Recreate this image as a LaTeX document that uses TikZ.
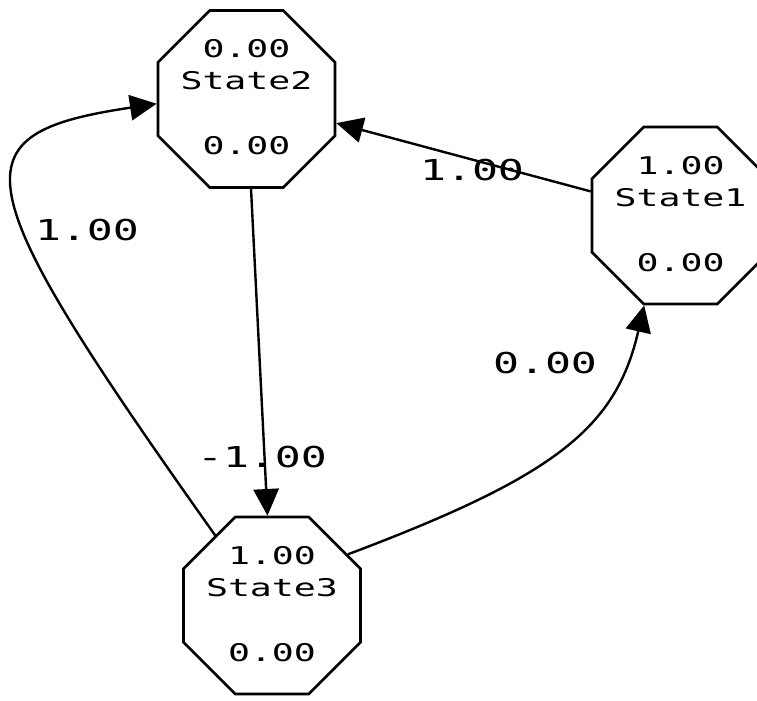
\documentclass[tikz,border=0pt]{standalone}
\usepackage{fontspec}
\usepackage{graphicx}
\newfontfamily\statefont[FakeStretch=1.5,Scale=1.75]{DejaVu Sans Mono}
\newfontfamily\labelfont[FakeStretch=1.5,Scale=2.25]{DejaVu Sans Mono}
\newlength\stw
\newlength\lbw
\newcommand\stxt[1]{\scalebox{\stsc}{\statefont #1}}
\newcommand\ltxt[1]{\scalebox{\lbsc}{\labelfont #1}}
\usetikzlibrary{shapes.geometric,arrows.meta}
\begin{document}
\settowidth{\stw}{\statefont 0}%
\settowidth{\lbw}{\labelfont 0}%
\pgfmathsetmacro\stsc{16.5/\stw}%
\pgfmathsetmacro\lbsc{19.5/\lbw}%
\begin{tikzpicture}[x=0.75pt,y=-0.75pt,
  state/.style={draw,line width=2pt,regular polygon,regular polygon sides=8,
    minimum size=143.7pt,inner sep=0pt},
  stt/.style={inner sep=0pt},
  lbl/.style={inner sep=0pt},
  conn/.style={line width=1.8pt,-{Triangle[length=20pt,width=19pt]}}]
\clip (0,0) rectangle (757,700);
\node[state] (s2) at (246.5,99) {};
\node[state] (s1) at (680.5,215.5) {};
\node[state] (s3) at (272,605.5) {};
\node[stt] (s2a) at ([yshift=37.5pt]s2.center) {\stxt{0.00}};
\node[stt] (s2b) at ([yshift=13.5pt]s2.center) {\stxt{State2}};
\node[stt] (s2c) at ([yshift=-35pt]s2.center) {\stxt{0.00}};
\node[stt] (s1a) at ([yshift=37.5pt]s1.center) {\stxt{1.00}};
\node[stt] (s1b) at ([yshift=13.5pt]s1.center) {\stxt{State1}};
\node[stt] (s1c) at ([yshift=-35pt]s1.center) {\stxt{0.00}};
\node[stt] (s3a) at ([yshift=37.5pt]s3.center) {\stxt{1.00}};
\node[stt] (s3b) at ([yshift=13.5pt]s3.center) {\stxt{State3}};
\node[stt] (s3c) at ([yshift=-35pt]s3.center) {\stxt{0.00}};
\draw[conn] (s1) -- (s2);
\draw[conn] (s2) -- (s3);
\draw[conn] (s3.34) .. controls (556,476) and (616,428) .. (s1.248);
\draw[conn] (s3.129) .. controls (-39,177) and (-45,134) .. (s2.183);
\node[lbl] (l12) at (472,170) {\ltxt{1.00}};
\node[lbl] (l23) at (262,457) {\ltxt{-1.00}};
\node[lbl] (l31) at (545,363) {\ltxt{0.00}};
\node[lbl] (l32) at (87,230) {\ltxt{1.00}};
\end{tikzpicture}
\end{document}
